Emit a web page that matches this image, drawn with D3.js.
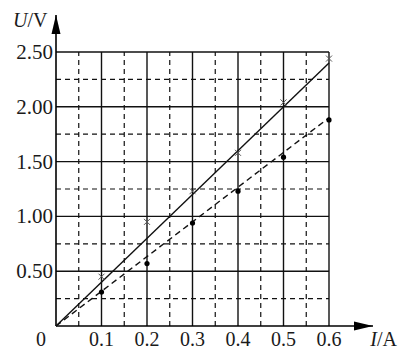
<!DOCTYPE html>
<html>
<head>
<meta charset="utf-8">
<script src="https://cdn.jsdelivr.net/npm/d3@7"></script>
<style>
  body { margin: 0; background: #fff; }
  svg { display: block; }
  text { font-family: "Liberation Serif", "Times New Roman", serif; fill: #1a1a1a; }
</style>
</head>
<body>
<div id="chart"></div>
<script>
// measured points, cross series (solid line) and dot series (dashed line)
var currentA = [0.1, 0.2, 0.3, 0.4, 0.5, 0.6];
var crossU = [0.45, 0.95, 1.23, 1.58, 2.04, 2.44];
var dotU = [0.31, 0.57, 0.94, 1.23, 1.54, 1.88];
// fitted lines, start and end
var solidFit = [[0, 0], [0.6, 2.40]];
var dashedFit = [[0, 0], [0.6, 1.90]];
var xTicks = [0.1, 0.2, 0.3, 0.4, 0.5, 0.6];
var yTicks = [0.5, 1.0, 1.5, 2.0, 2.5];
var xMinor = [0.05, 0.15, 0.25, 0.35, 0.45, 0.55];
var yMinor = [0.25, 0.75, 1.25, 1.75, 2.25];

var width = 399, height = 349;
var margin = {top: 52, right: 70, bottom: 23, left: 56};

var svg = d3.select('#chart').append('svg')
	.attr('width', width)
	.attr('height', height);

var x = d3.scaleLinear()
	.domain([0, 0.6])
	.range([margin.left, width - margin.right]);

var y = d3.scaleLinear()
	.domain([0, 2.5])
	.range([height - margin.bottom, margin.top]);

var grid = svg.append('g').attr('stroke', '#111');

// dashed half-step grid
grid.selectAll('.vminor')
	.data(xMinor)
	.enter().append('line')
	.attr('x1', d => x(d)).attr('x2', d => x(d))
	.attr('y1', y(0)).attr('y2', y(2.5))
	.attr('stroke-width', 1.2)
	.attr('stroke-dasharray', '5,4');

grid.selectAll('.hminor')
	.data(yMinor)
	.enter().append('line')
	.attr('x1', x(0)).attr('x2', x(0.6))
	.attr('y1', d => y(d)).attr('y2', d => y(d))
	.attr('stroke-width', 1.2)
	.attr('stroke-dasharray', '5,4');

// solid grid
grid.selectAll('.vmajor')
	.data(xTicks)
	.enter().append('line')
	.attr('x1', d => x(d)).attr('x2', d => x(d))
	.attr('y1', y(0)).attr('y2', y(2.5))
	.attr('stroke-width', 1.4);

grid.selectAll('.hmajor')
	.data(yTicks)
	.enter().append('line')
	.attr('x1', x(0)).attr('x2', x(0.6))
	.attr('y1', d => y(d)).attr('y2', d => y(d))
	.attr('stroke-width', 1.4);

// axes with arrows
svg.append('defs').append('marker')
	.attr('id', 'arrow')
	.attr('viewBox', '0 0 19 10')
	.attr('refX', 19).attr('refY', 5)
	.attr('markerWidth', 19).attr('markerHeight', 10)
	.attr('markerUnits', 'userSpaceOnUse')
	.attr('orient', 'auto')
	.append('path')
	.attr('d', 'M0,0.5 L19,5 L0,9.5 Z')
	.attr('fill', '#000');

svg.append('line')
	.attr('x1', x(0)).attr('x2', x(0))
	.attr('y1', y(0)).attr('y2', 15)
	.attr('stroke', '#000').attr('stroke-width', 1.6)
	.attr('marker-end', 'url(#arrow)');

svg.append('line')
	.attr('x1', x(0)).attr('x2', 373)
	.attr('y1', y(0)).attr('y2', y(0))
	.attr('stroke', '#000').attr('stroke-width', 1.6)
	.attr('marker-end', 'url(#arrow)');

// fit lines
var line = d3.line()
	.x(d => x(d[0]))
	.y(d => y(d[1]));

svg.append('path')
	.datum(solidFit)
	.attr('fill', 'none')
	.attr('stroke', '#111')
	.attr('stroke-width', 1.4)
	.attr('d', line);

svg.append('path')
	.datum(dashedFit)
	.attr('fill', 'none')
	.attr('stroke', '#111')
	.attr('stroke-width', 1.4)
	.attr('stroke-dasharray', '6,4')
	.attr('d', line);

// markers
svg.selectAll('.cross')
	.data(currentA)
	.enter().append('path')
	.attr('transform', (d, i) => `translate(${x(d)},${y(crossU[i])})`)
	.attr('d', 'M-3,-3 L3,3 M-3,3 L3,-3')
	.attr('stroke', '#555')
	.attr('stroke-width', 1);

svg.selectAll('.dot')
	.data(currentA)
	.enter().append('circle')
	.attr('cx', d => x(d))
	.attr('cy', (d, i) => y(dotU[i]))
	.attr('r', 2.6)
	.attr('fill', '#000');

// tick labels
svg.selectAll('.ylab')
	.data(yTicks)
	.enter().append('text')
	.attr('x', x(0) - 3)
	.attr('y', d => y(d) + 7)
	.attr('text-anchor', 'end')
	.style('font-size', '21px')
	.text(d => d3.format('.2f')(d));

svg.selectAll('.xlab')
	.data(xTicks)
	.enter().append('text')
	.attr('x', d => x(d))
	.attr('y', 346)
	.attr('text-anchor', 'middle')
	.style('font-size', '20px')
	.text(d => d3.format('.1f')(d));

svg.append('text')
	.attr('x', 41).attr('y', 346)
	.attr('text-anchor', 'middle')
	.style('font-size', '20px')
	.text('0');

var uLabel = svg.append('text')
	.attr('x', 13).attr('y', 27)
	.style('font-size', '20px');
uLabel.append('tspan').style('font-style', 'italic').text('U');
uLabel.append('tspan').text('/V');

var iLabel = svg.append('text')
	.attr('x', 397).attr('y', 346)
	.attr('text-anchor', 'end')
	.style('font-size', '20px');
iLabel.append('tspan').style('font-style', 'italic').text('I');
iLabel.append('tspan').text('/A');
</script>
</body>
</html>
